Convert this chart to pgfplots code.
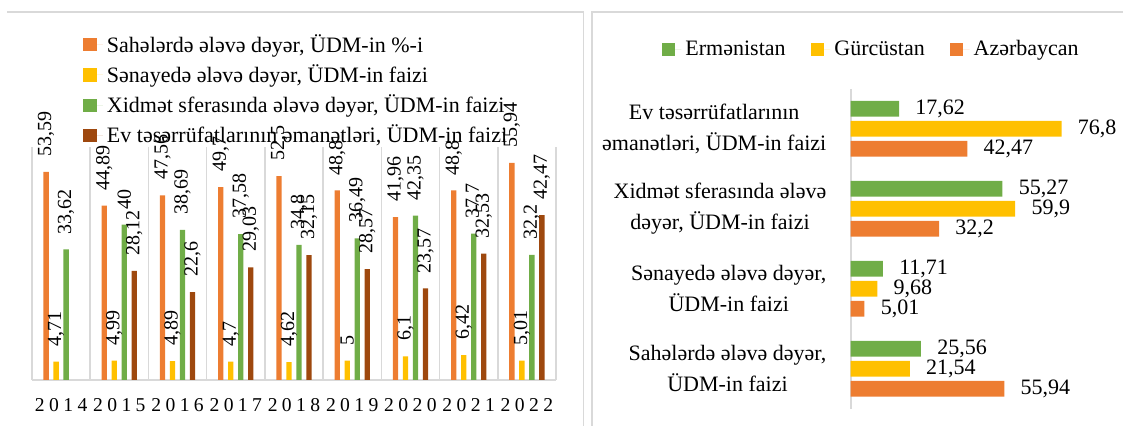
\documentclass[border=0pt]{standalone}
\usepackage{fontspec}
\setmainfont{Liberation Serif}
\usepackage{pgfplots}
\pgfplotsset{compat=1.18}
\definecolor{cOr}{HTML}{ED7D31}
\definecolor{cYe}{HTML}{FFC000}
\definecolor{cGr}{HTML}{70AD47}
\definecolor{cBr}{HTML}{9E480E}
\definecolor{cGrid}{HTML}{D9D9D9}
\newcommand\yr[4]{#1\kern2.2pt#2\kern2.2pt#3\kern2.2pt#4}
\begin{document}
\begin{tikzpicture}
\useasboundingbox (0pt,0pt) rectangle (561.5pt,213pt);
\draw[cGrid, line width=0.8pt] (3.5pt,206.85pt) -- (291.65pt,206.85pt) -- (291.65pt,0pt);
\draw[cGrid, line width=0.8pt] (296pt,0pt) -- (296pt,206.85pt) -- (561.5pt,206.85pt);

\begin{axis}[
  at={(16pt,23pt)}, anchor=south west,
  scale only axis, width=262pt, height=116.5pt,
  ybar, bar width=2.65pt,
  xmin=-0.5, xmax=8.5, ymin=0, ymax=60,
  axis y line=none, axis x line*=bottom,
  x axis line style={draw=cGrid, line width=0.8pt, -},
  xtick={0,...,8},
  xticklabels={\yr2014,\yr2015,\yr2016,\yr2017,\yr2018,\yr2019,\yr2020,\yr2021,\yr2022},
  minor xtick={-0.5,0.5,...,8.5},
  xminorgrids, minor grid style={draw=cGrid, line width=0.8pt},
  major tick length=0pt, minor tick length=0pt,
  xticklabel style={font=\fontsize{9.8}{11}\selectfont, inner sep=0pt, anchor=north, yshift=-9pt},
  clip=false,
  /pgf/number format/use comma,
  /pgf/number format/assume math mode=true,
  nodes near coords,
  nodes near coords style={rotate=90, anchor=west, inner sep=0pt, inner xsep=7.5pt, font=\fontsize{10}{12}\selectfont, text=black},
  legend style={at={(axis description cs:0.0973,1.503)}, anchor=north west, draw=none, fill=none, inner sep=0pt, row sep=0.75pt, font=\fontsize{11}{13}\selectfont, cells={anchor=west}},
  legend image code/.code={\fill[#1] (0pt,-3.3pt) rectangle (6.6pt,3.3pt); \path (0pt,0pt) -- (9.8pt,0pt);},
]
\addplot[fill=cOr, draw=none, bar shift=-7.5pt] coordinates {(0,53.59) (1,44.89) (2,47.56) (3,49.7) (4,52.5) (5,48.8) (6,41.96) (7,48.8) (8,55.94)};
\addplot[fill=cYe, draw=none, bar shift=-2.5pt] coordinates {(0,4.71) (1,4.99) (2,4.89) (3,4.7) (4,4.62) (5,5) (6,6.1) (7,6.42) (8,5.01)};
\addplot[fill=cGr, draw=none, bar shift=2.5pt] coordinates {(0,33.62) (1,40) (2,38.69) (3,37.58) (4,34.8) (5,36.49) (6,42.35) (7,37.7) (8,32.2)};
\addplot[fill=cBr, draw=none, bar shift=7.5pt] coordinates {(1,28.12) (2,22.6) (3,29.03) (4,32.15) (5,28.57) (6,23.57) (7,32.53) (8,42.47)};
\legend{{Sahələrdə ələvə dəyər, ÜDM-in \%-i}, {Sənayedə ələvə dəyər, ÜDM-in faizi}, {Xidmət sferasında ələvə dəyər, ÜDM-in faizi}, {Ev təsərrüfatlarının əmanətləri, ÜDM-in faizi}}
\end{axis}

\begin{axis}[
  at={(425.35pt,8.65pt)}, anchor=south west,
  scale only axis, width=109.8pt, height=160pt,
  xbar, bar width=7.85pt,
  xmin=0, xmax=80, ymin=-0.5, ymax=3.5,
  axis x line=none, axis y line*=left,
  y axis line style={draw=cGrid, line width=0.8pt, -},
  ytick={0,1,2,3},
  yticklabels={{Sahələrdə ələvə dəyər,\\ÜDM-in faizi},{Sənayedə ələvə dəyər,\\ÜDM-in faizi},{Xidmət sferasında ələvə\\dəyər, ÜDM-in faizi},{Ev təsərrüfatlarının\\əmanətləri, ÜDM-in faizi}},
  major tick length=0pt, minor tick length=0pt,
  yticklabel style={font=\fontsize{11}{15.5}\selectfont, align=center, inner sep=0pt, anchor=east, xshift=-12pt},
  clip=false, point meta=x,
  /pgf/number format/use comma,
  /pgf/number format/assume math mode=true,
  nodes near coords,
  nodes near coords style={anchor=west, inner sep=0pt, inner xsep=8pt, font=\fontsize{11}{13}\selectfont, text=black},
  legend columns=3,
  legend style={at={(axis description cs:-0.862,1.1215)}, anchor=west, draw=none, fill=none, inner sep=0pt, font=\fontsize{11}{13}\selectfont, /tikz/every even column/.append style={column sep=10.6pt}},
  legend image code/.code={\fill[#1] (0pt,-3.3pt) rectangle (6.6pt,3.3pt); \path (0pt,0pt) -- (9.8pt,0pt);},
]
\addplot[fill=cGr, draw=none, bar shift=10pt] coordinates {(25.56,0) (11.71,1) (55.27,2) (17.62,3)};
\addplot[fill=cYe, draw=none, bar shift=0pt] coordinates {(21.54,0) (9.68,1) (59.9,2) (76.8,3)};
\addplot[fill=cOr, draw=none, bar shift=-10pt] coordinates {(55.94,0) (5.01,1) (32.2,2) (42.47,3)};
\legend{Ermənistan, Gürcüstan, Azərbaycan}
\end{axis}
\end{tikzpicture}
\end{document}
